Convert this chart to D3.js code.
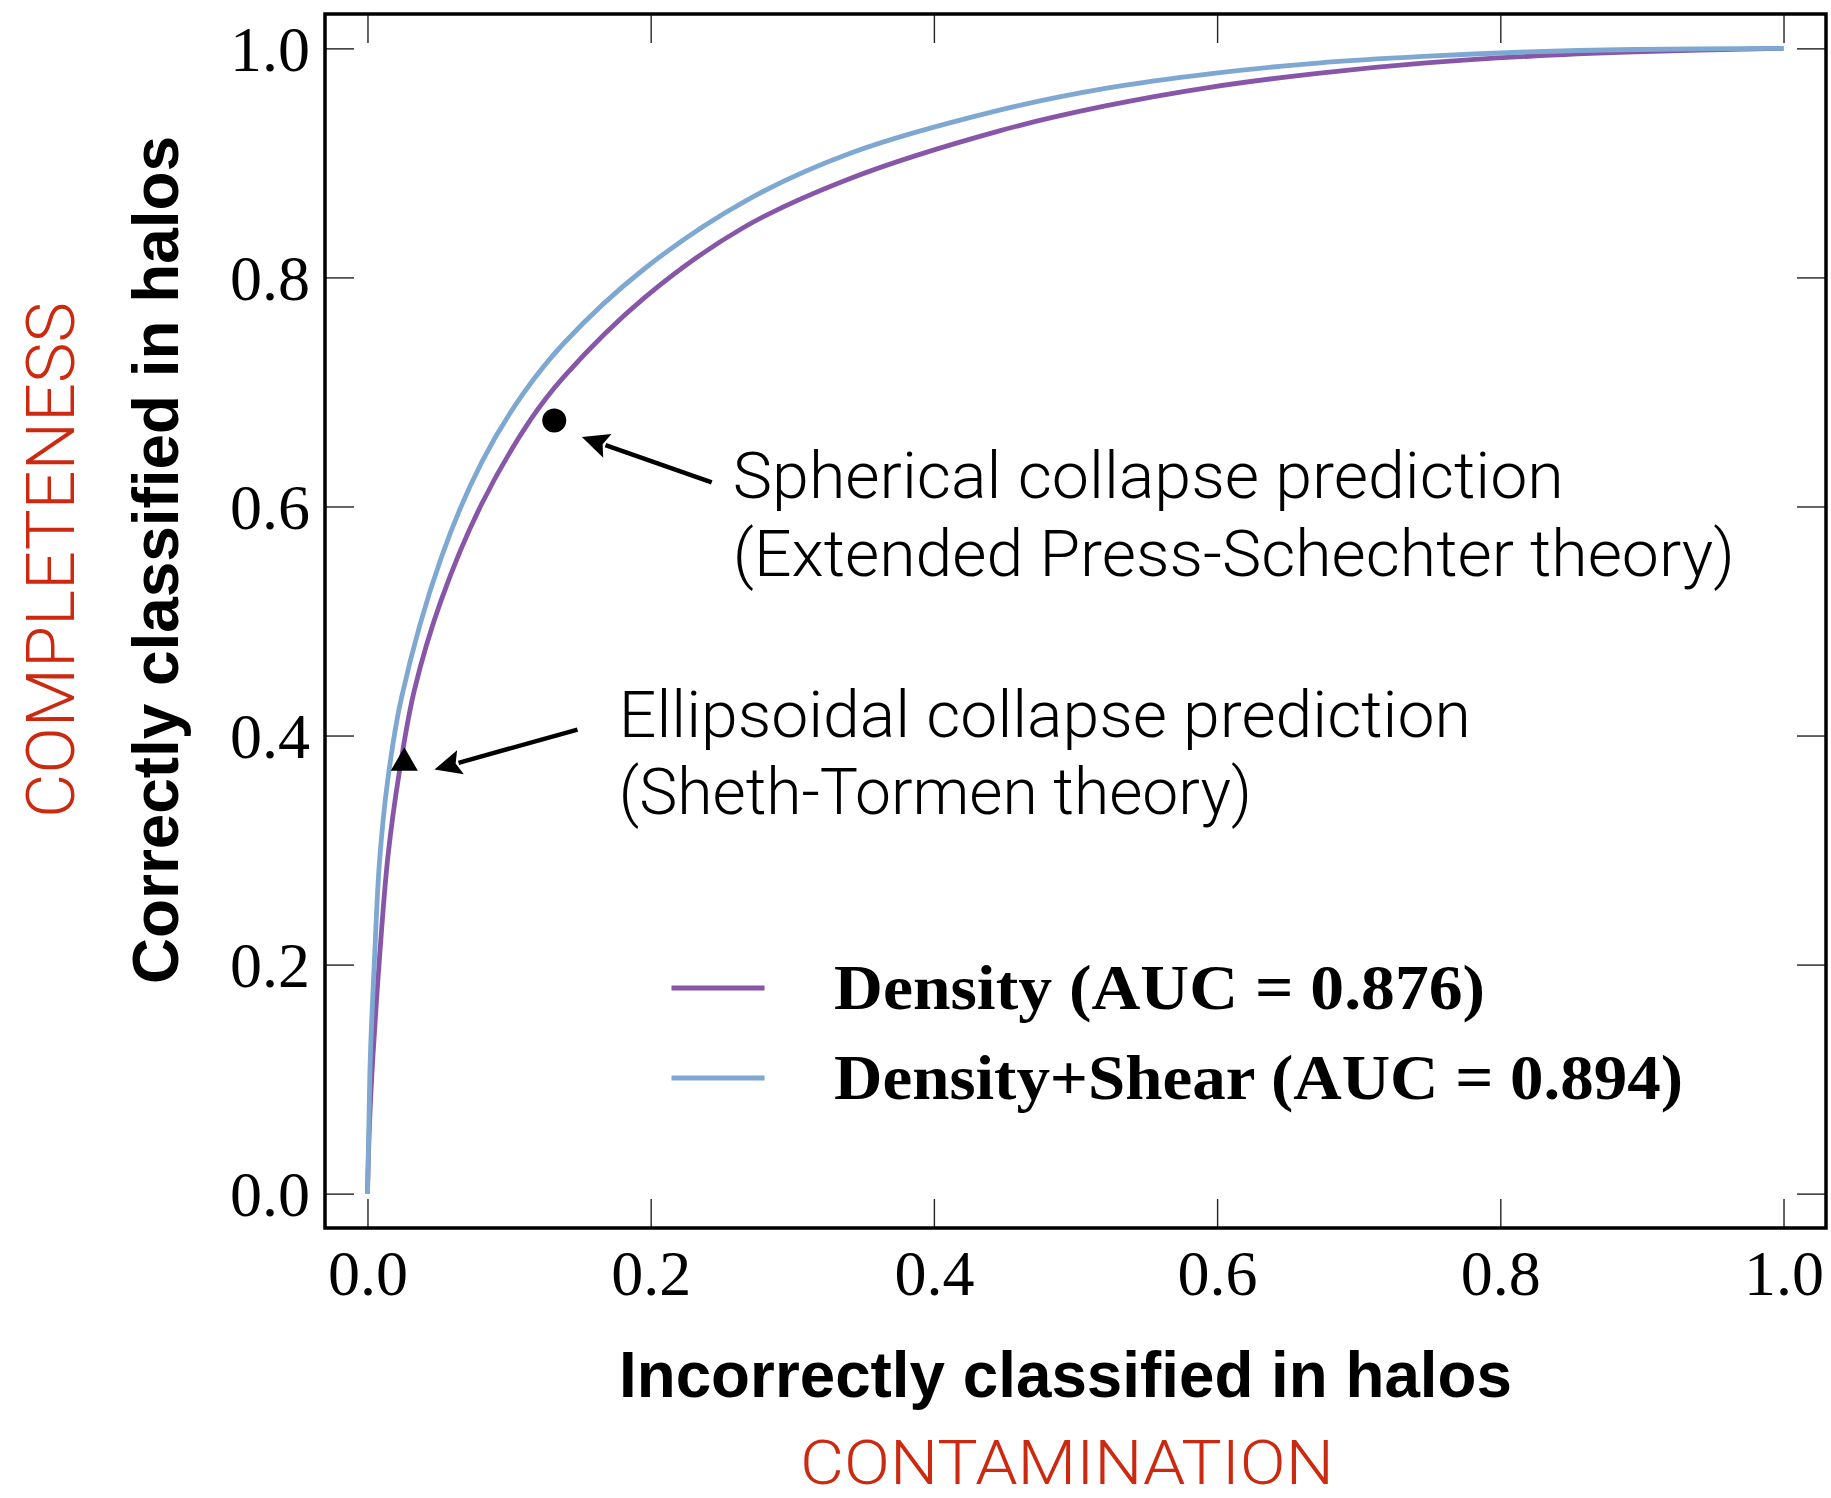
<!DOCTYPE html>
<html>
<head>
<meta charset="utf-8">
<script src="https://cdn.jsdelivr.net/npm/d3@7"></script>
<style>
  html, body { margin: 0; padding: 0; background: #fff; }
  svg { display: block; }
</style>
</head>
<body>
<svg id="chart" width="1831" height="1498"></svg>
<script>
// ---- data ----
const densityFPR = [0, 0.0014, 0.0038, 0.0085, 0.0144, 0.0226, 0.033, 0.052, 0.0808, 0.1154, 0.1385, 0.1961, 0.2653, 0.340, 0.4463, 0.5211, 0.596, 0.671, 0.7455, 0.820, 0.895, 1.0];
const densityTPR = [0, 0.06, 0.119, 0.206, 0.294, 0.369, 0.439, 0.518, 0.6026, 0.6762, 0.713, 0.7828, 0.8434, 0.886, 0.928, 0.9497, 0.9662, 0.9782, 0.9871, 0.9931, 0.9969, 1.0];

const shearFPR = [0, 0.001, 0.002, 0.005, 0.0085, 0.0144, 0.024, 0.052, 0.0808, 0.1097, 0.1385, 0.196, 0.268, 0.340, 0.4463, 0.5211, 0.596, 0.671, 0.7455, 0.820, 0.895, 1.0];
const shearTPR = [0, 0.06, 0.119, 0.206, 0.29, 0.362, 0.433, 0.555, 0.639, 0.698, 0.7423, 0.808, 0.8675, 0.908, 0.946, 0.965, 0.978, 0.9872, 0.993, 0.9969, 0.999, 1.0];

const seriesNames = ["Density (AUC = 0.876)", "Density+Shear (AUC = 0.894)"];
const seriesColors = ["#8856a8", "#7ea8d2"];

const xTicks = [0.0, 0.2, 0.4, 0.6, 0.8, 1.0];
const yTicks = [0.0, 0.2, 0.4, 0.6, 0.8, 1.0];

// predictions (markers)
const sphericalPoint = [0.1319, 0.6751];
const ellipsoidalPoint = [0.026, 0.376];

// annotation texts
const sphericalText = ["Spherical collapse prediction", "(Extended Press-Schechter theory)"];
const ellipsoidalText = ["Ellipsoidal collapse prediction", "(Sheth-Tormen theory)"];

// ---- layout ----
const svg = d3.select("#chart");
const L = 325, R = 1826, T = 14, B = 1228;
const x = d3.scaleLinear().domain([-0.03, 1.03]).range([L, R]);
const y = d3.scaleLinear().domain([-0.03, 1.03]).range([B, T]);

const tickLen = 29;
const tickFont = "'Liberation Serif', 'Times New Roman', serif";

function styleAxis(g, showLabels) {
  g.select(".domain").remove();
  g.selectAll(".tick line").attr("stroke", "#222").attr("stroke-width", 1.4);
  if (!showLabels) g.selectAll(".tick text").remove();
  else g.selectAll(".tick text").attr("fill", "#000").attr("font-family", tickFont).attr("font-size", 64);
}

const fmt = d3.format(".1f");
svg.append("g").attr("transform", `translate(0,${B})`)
  .call(d3.axisBottom(x).tickValues(xTicks).tickFormat(fmt).tickSizeInner(-tickLen).tickSizeOuter(0).tickPadding(22))
  .call(g => styleAxis(g, true));
svg.append("g").attr("transform", `translate(0,${T})`)
  .call(d3.axisTop(x).tickValues(xTicks).tickSizeInner(-tickLen).tickSizeOuter(0))
  .call(g => styleAxis(g, false));
svg.append("g").attr("transform", `translate(${L},0)`)
  .call(d3.axisLeft(y).tickValues(yTicks).tickFormat(fmt).tickSizeInner(-tickLen).tickSizeOuter(0).tickPadding(15))
  .call(g => styleAxis(g, true))
  .call(g => g.selectAll(".tick text").attr("dy", "0.34em"));
svg.append("g").attr("transform", `translate(${R},0)`)
  .call(d3.axisRight(y).tickValues(yTicks).tickSizeInner(-tickLen).tickSizeOuter(0))
  .call(g => styleAxis(g, false));

// ---- curves ----
const line = d3.line()
  .x(d => x(d[0])).y(d => y(d[1]))
  .curve(d3.curveCatmullRom.alpha(0.5));

const series = [
  d3.zip(densityFPR, densityTPR),
  d3.zip(shearFPR, shearTPR)
];
series.forEach((s, i) => {
  svg.append("path").datum(s)
    .attr("d", line)
    .attr("fill", "none")
    .attr("stroke", seriesColors[i])
    .attr("stroke-width", 4.8)
    .attr("stroke-linejoin", "round");
});

// frame
svg.append("rect")
  .attr("x", L).attr("y", T).attr("width", R - L).attr("height", B - T)
  .attr("fill", "none").attr("stroke", "#000").attr("stroke-width", 3.5);

// ---- markers ----
svg.append("circle")
  .attr("cx", x(sphericalPoint[0])).attr("cy", y(sphericalPoint[1]))
  .attr("r", 12).attr("fill", "#000");
svg.append("path")
  .attr("d", d3.symbol().type(d3.symbolTriangle).size(320)())
  .attr("transform", `translate(${x(ellipsoidalPoint[0])},${y(ellipsoidalPoint[1])})`)
  .attr("fill", "#000");

// ---- arrows ----
function arrow(tail, tip) {
  const x0 = x(tail[0]), y0 = y(tail[1]), x1 = x(tip[0]), y1 = y(tip[1]);
  const dx = x1 - x0, dy = y1 - y0, len = Math.hypot(dx, dy);
  const ux = dx / len, uy = dy / len;
  const hl = 27, hw = 12.5;
  const bx = x1 - ux * hl, by = y1 - uy * hl;
  svg.append("line")
    .attr("x1", x0).attr("y1", y0).attr("x2", bx + ux * 2).attr("y2", by + uy * 2)
    .attr("stroke", "#000").attr("stroke-width", 4.5);
  svg.append("path")
    .attr("d", `M${x1},${y1}L${bx - uy * hw},${by + ux * hw}L${bx + ux * 5},${by + uy * 5}L${bx + uy * hw},${by - ux * hw}Z`)
    .attr("fill", "#000");
}
arrow([0.2431, 0.621], [0.1514, 0.6607]);
arrow([0.1483, 0.4052], [0.0473, 0.3703]);

// ---- annotation text ----
const annFont = "Roboto, 'Liberation Sans', Arial, sans-serif";
function annotate(lines, xv, yv, lengths) {
  lines.forEach((t, i) => {
    svg.append("text")
      .attr("x", x(xv)).attr("y", y(yv) + i * 77.5)
      .attr("font-family", annFont).attr("font-weight", 300)
      .attr("font-size", 64).attr("fill", "#000")
      .attr("textLength", lengths[i]).attr("lengthAdjust", "spacingAndGlyphs")
      .text(t);
  });
}
annotate(sphericalText, 0.258, 0.607, [831, 1002]);
annotate(ellipsoidalText, 0.1775, 0.399, [852, 633]);

// ---- legend ----
const legendY = [0.1795, 0.1009];
const legendLens = [651, 849];
seriesNames.forEach((name, i) => {
  svg.append("line")
    .attr("x1", x(0.2147)).attr("x2", x(0.2804))
    .attr("y1", y(legendY[i])).attr("y2", y(legendY[i]))
    .attr("stroke", seriesColors[i]).attr("stroke-width", 5);
  svg.append("text")
    .attr("x", x(0.3295)).attr("y", y(legendY[i]) + 20.5)
    .attr("font-family", tickFont).attr("font-weight", "bold")
    .attr("font-size", 64).attr("fill", "#000")
    .attr("textLength", legendLens[i]).attr("lengthAdjust", "spacingAndGlyphs")
    .text(name);
});

// ---- axis titles ----
const titleFont = "'Liberation Sans', Arial, Helvetica, sans-serif";
svg.append("text")
  .attr("x", (L + R) / 2 - 10).attr("y", 1397)
  .attr("text-anchor", "middle")
  .attr("font-family", titleFont).attr("font-weight", "bold").attr("font-size", 65)
  .attr("textLength", 893).attr("lengthAdjust", "spacingAndGlyphs")
  .text("Incorrectly classified in halos");
svg.append("text")
  .attr("transform", "translate(178,560) rotate(-90)")
  .attr("text-anchor", "middle")
  .attr("font-family", titleFont).attr("font-weight", "bold").attr("font-size", 65)
  .attr("textLength", 848).attr("lengthAdjust", "spacingAndGlyphs")
  .text("Correctly classified in halos");

const redFont = "Roboto, 'Liberation Sans', sans-serif";
svg.append("text")
  .attr("x", 1067).attr("y", 1484)
  .attr("text-anchor", "middle")
  .attr("font-family", redFont).attr("font-weight", 300).attr("font-size", 62)
  .attr("fill", "#cc2a10")
  .attr("textLength", 534).attr("lengthAdjust", "spacingAndGlyphs")
  .text("CONTAMINATION");
svg.append("text")
  .attr("transform", "translate(74,560) rotate(-90)")
  .attr("text-anchor", "middle")
  .attr("font-family", redFont).attr("font-weight", 300).attr("font-size", 67)
  .attr("fill", "#cc2a10")
  .attr("textLength", 516).attr("lengthAdjust", "spacingAndGlyphs")
  .text("COMPLETENESS");
</script>
</body>
</html>
